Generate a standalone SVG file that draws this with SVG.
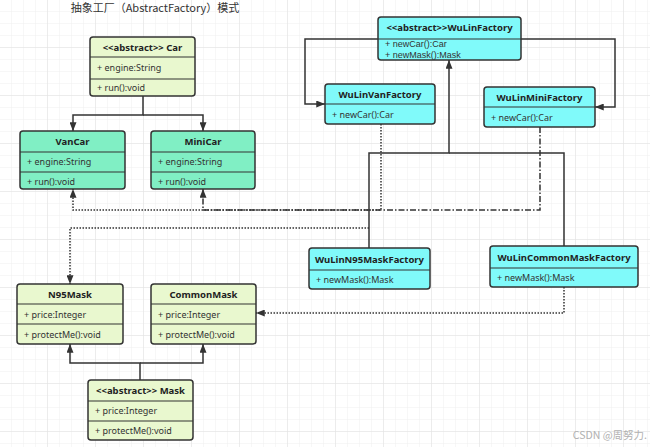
<svg xmlns="http://www.w3.org/2000/svg" width="650" height="447" viewBox="0 0 650 447">
<defs>
<pattern id="gridS" width="12" height="12" patternUnits="userSpaceOnUse">
<path d="M12,0 V12 M0,12 H12" fill="none" stroke="#efefef" stroke-width="1"/>
</pattern>
<pattern id="gridL" width="48" height="48" patternUnits="userSpaceOnUse">
<rect width="48" height="48" fill="url(#gridS)"/>
<path d="M48,0 V48 M0,48 H48" fill="none" stroke="#e2e2e2" stroke-width="1"/>
</pattern>
<marker id="arr" viewBox="0 0 10 8" markerWidth="9" markerHeight="7" refX="10" refY="4" orient="auto" markerUnits="userSpaceOnUse">
<path d="M0,0 L10,4 L0,8 z" fill="#333333" stroke="none"/>
</marker>
</defs>
<style>
.box{stroke:#333333;stroke-width:1.5}
.div{stroke:#333333;stroke-width:1.2}
.lg{fill:#e9f8cf}
.mint{fill:#80efc4}
.cyan{fill:#80fafa}
.h{font-family:"Noto Sans","Liberation Sans",sans-serif;font-size:9.5px;font-weight:bold;fill:#222;text-anchor:middle}
.t{font-family:"Noto Sans","Liberation Sans",sans-serif;font-size:9px;fill:#333}
.t2{font-family:"Liberation Sans",sans-serif;font-size:9px;fill:#333}
.ln{fill:none;stroke:#333333;stroke-width:1.5}
.dot{fill:none;stroke:#333333;stroke-width:1.5;stroke-dasharray:1.5 1.5}
.dd{fill:none;stroke:#333333;stroke-width:1.5;stroke-dasharray:6 2 1.5 2}
</style>
<rect width="650" height="447" fill="#ffffff"/>
<rect width="650" height="447" fill="url(#gridL)"/>
<text x="155" y="12" font-family="Noto Sans CJK SC,Noto Sans,sans-serif" font-size="11" fill="#333" text-anchor="middle">抽象工厂（AbstractFactory）模式</text>

<g id="connectors">
<path class="ln" d="M143,96 V115 H73 V131" marker-end="url(#arr)"/>
<path class="ln" d="M143,115 H203 V131" marker-end="url(#arr)"/>
<path class="ln" d="M378,39 H305 V104 H325" marker-end="url(#arr)"/>
<path class="ln" d="M521,39 H615 V107 H595" marker-end="url(#arr)"/>
<path class="ln" d="M369,248 V153 H449 V60" marker-end="url(#arr)"/>
<path class="ln" d="M564,246 V153 H449"/>
<path class="dot" d="M381,124 V210 H73 V189" marker-end="url(#arr)"/>
<path class="dd" d="M540,127 V210 H203 V189" marker-end="url(#arr)"/>
<path class="dot" d="M369,228 H70 V284" marker-end="url(#arr)"/>
<path class="dot" d="M564,287 V313 H256" marker-end="url(#arr)"/>
<path class="ln" d="M140,380 V363 H70 V344" marker-end="url(#arr)"/>
<path class="ln" d="M140,363 H203 V344" marker-end="url(#arr)"/>
</g>

<g id="Car">
<rect class="box lg" x="90" y="37" width="105" height="59" rx="3"/>
<line class="div" x1="90" y1="57" x2="195" y2="57"/>
<line class="div" x1="90" y1="79" x2="195" y2="79"/>
<text class="h" x="142.5" y="51">&lt;&lt;abstract&gt;&gt; Car</text>
<text class="t" x="97" y="71">+ engine:String</text>
<text class="t" x="97" y="91">+ run():void</text>
</g>

<g id="VanCar">
<rect class="box mint" x="20" y="131" width="105" height="58" rx="3"/>
<line class="div" x1="20" y1="152" x2="125" y2="152"/>
<line class="div" x1="20" y1="172" x2="125" y2="172"/>
<text class="h" x="72.5" y="145">VanCar</text>
<text class="t" x="27" y="165">+ engine:String</text>
<text class="t" x="27" y="185">+ run():void</text>
</g>

<g id="MiniCar">
<rect class="box mint" x="151" y="131" width="104" height="58" rx="3"/>
<line class="div" x1="151" y1="152" x2="255" y2="152"/>
<line class="div" x1="151" y1="172" x2="255" y2="172"/>
<text class="h" x="203" y="145">MiniCar</text>
<text class="t" x="158" y="165">+ engine:String</text>
<text class="t" x="158" y="185">+ run():void</text>
</g>

<g id="WuLinFactory">
<rect class="box cyan" x="378" y="17" width="143" height="43" rx="3"/>
<line class="div" x1="378" y1="39" x2="521" y2="39"/>
<text class="h" x="449.5" y="31">&lt;&lt;abstract&gt;&gt;WuLinFactory</text>
<text class="t2" x="385" y="46.5">+ newCar():Car</text>
<text class="t2" x="385" y="57.5">+ newMask():Mask</text>
</g>

<g id="WuLinVanFactory">
<rect class="box cyan" x="325" y="84" width="110" height="40" rx="3"/>
<line class="div" x1="325" y1="104" x2="435" y2="104"/>
<text class="h" x="380" y="98">WuLinVanFactory</text>
<text class="t" x="332" y="118">+ newCar():Car</text>
</g>

<g id="WuLinMiniFactory">
<rect class="box cyan" x="484" y="87" width="111" height="40" rx="3"/>
<line class="div" x1="484" y1="107" x2="595" y2="107"/>
<text class="h" x="539.5" y="101">WuLinMiniFactory</text>
<text class="t" x="491" y="121">+ newCar():Car</text>
</g>

<g id="WuLinN95MaskFactory">
<rect class="box cyan" x="309" y="248" width="121" height="41" rx="3"/>
<line class="div" x1="309" y1="270" x2="430" y2="270"/>
<text class="h" x="369.5" y="263">WuLinN95MaskFactory</text>
<text class="t" x="316" y="283">+ newMask():Mask</text>
</g>

<g id="WuLinCommonMaskFactory">
<rect class="box cyan" x="490" y="246" width="148" height="41" rx="3"/>
<line class="div" x1="490" y1="268" x2="638" y2="268"/>
<text class="h" x="564" y="261">WuLinCommonMaskFactory</text>
<text class="t" x="497" y="281">+ newMask():Mask</text>
</g>

<g id="N95Mask">
<rect class="box lg" x="17" y="284" width="106" height="60" rx="3"/>
<line class="div" x1="17" y1="304" x2="123" y2="304"/>
<line class="div" x1="17" y1="324" x2="123" y2="324"/>
<text class="h" x="70" y="298">N95Mask</text>
<text class="t" x="24" y="318">+ price:Integer</text>
<text class="t" x="24" y="338">+ protectMe():void</text>
</g>

<g id="CommonMask">
<rect class="box lg" x="151" y="284" width="105" height="60" rx="3"/>
<line class="div" x1="151" y1="304" x2="256" y2="304"/>
<line class="div" x1="151" y1="324" x2="256" y2="324"/>
<text class="h" x="203.5" y="298">CommonMask</text>
<text class="t" x="158" y="318">+ price:Integer</text>
<text class="t" x="158" y="338">+ protectMe():void</text>
</g>

<g id="Mask">
<rect class="box lg" x="88" y="380" width="105" height="60" rx="3"/>
<line class="div" x1="88" y1="401" x2="193" y2="401"/>
<line class="div" x1="88" y1="421" x2="193" y2="421"/>
<text class="h" x="140.5" y="394">&lt;&lt;abstract&gt;&gt; Mask</text>
<text class="t" x="95" y="414">+ price:Integer</text>
<text class="t" x="95" y="434">+ protectMe():void</text>
</g>

<text x="647" y="439" font-family="Noto Sans CJK SC,Noto Sans,sans-serif" font-size="10.5" fill="#b0b0b0" text-anchor="end">CSDN @周努力.</text>
</svg>
